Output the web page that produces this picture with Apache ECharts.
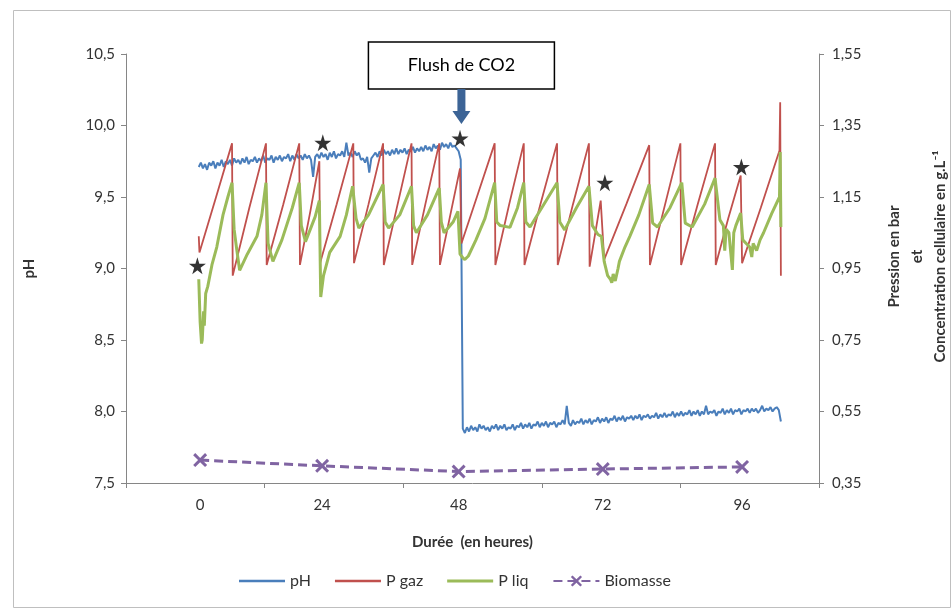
<!DOCTYPE html>
<html>
<head>
<meta charset="utf-8">
<script src="https://cdn.jsdelivr.net/npm/echarts@6/dist/echarts.min.js"></script>
<style>
html,body{margin:0;padding:0;background:#fff;}
#c{width:952px;height:610px;}
</style>
</head>
<body>
<div id="c"></div>
<script>
// ---- Data (x = position along the measurement axis, 0..1000) ----
const hourLabels = ['0', '24', '48', '72', '96'];
const hourPositions = [107, 283, 480, 688, 889];
const xTickValues = [0, 200, 400, 600, 800, 1000];
const rightTickValues = [0.35, 0.55, 0.75, 0.95, 1.15, 1.35, 1.55];
const flushPosition = 484;

const biomasseValues = [0.414, 0.398, 0.382, 0.389, 0.395];

const stars = [[103, 9.02], [284, 9.88], [482, 9.91], [691, 9.60], [888, 9.71]];

// pH samples, regularly spaced: first sample at phStart, one every phStep
const phStart = 105, phStep = 3;
const phValues = [
 9.71,9.74,9.70,9.73,9.69,9.74,9.72,9.75,9.70,9.74,
 9.72,9.76,9.71,9.75,9.73,9.76,9.72,9.77,9.74,9.76,
 9.73,9.77,9.74,9.78,9.73,9.76,9.75,9.78,9.74,9.77,
 9.75,9.79,9.74,9.77,9.76,9.79,9.74,9.78,9.76,9.79,
 9.75,9.78,9.77,9.80,9.75,9.79,9.76,9.80,9.77,9.79,
 9.76,9.80,9.77,9.79,9.76,9.64,9.78,9.80,9.77,9.81,
 9.78,9.80,9.76,9.81,9.78,9.82,9.77,9.80,9.79,9.82,
 9.78,9.88,9.79,9.81,9.78,9.82,9.79,9.81,9.76,9.77,
 9.74,9.78,9.67,9.77,9.79,9.81,9.78,9.82,9.79,9.83,
 9.80,9.82,9.79,9.83,9.80,9.84,9.80,9.83,9.81,9.84,
 9.80,9.83,9.82,9.85,9.81,9.84,9.82,9.85,9.82,9.86,
 9.83,9.85,9.82,9.87,9.84,9.86,9.83,9.88,9.85,9.87,
 9.84,9.88,9.85,9.86,9.84,9.82,9.76,
 7.88,7.85,7.89,7.86,7.90,7.87,7.89,7.86,7.91,7.88,
 7.90,7.87,7.89,7.86,7.90,7.88,7.91,7.87,7.90,7.88,
 7.91,7.87,7.89,7.88,7.91,7.87,7.90,7.89,7.92,7.88,
 7.91,7.89,7.92,7.88,7.91,7.90,7.93,7.89,7.92,7.90,
 7.93,7.89,7.92,7.91,7.93,7.89,7.92,7.91,7.94,7.91,
 8.04,7.92,7.90,7.94,7.91,7.93,7.92,7.95,7.91,7.94,
 7.92,7.95,7.91,7.94,7.93,7.96,7.92,7.95,7.93,7.96,
 7.92,7.95,7.94,7.97,7.93,7.96,7.94,7.97,7.93,7.96,
 7.95,7.97,7.94,7.97,7.95,7.98,7.94,7.97,7.96,7.98,
 7.95,7.97,7.96,7.99,7.95,7.98,7.96,7.99,7.96,7.98,
 7.97,8.00,7.96,7.99,7.97,8.00,7.97,7.99,7.98,8.01,
 7.97,8.00,7.98,8.01,7.97,8.00,7.98,8.04,7.98,8.00,
 7.99,8.01,7.97,8.00,7.99,8.02,7.98,8.01,7.99,8.02,
 7.98,8.01,8.00,8.02,7.98,8.01,8.00,8.02,7.99,8.02,
 8.00,8.02,7.99,8.01,8.04,8.00,8.02,8.01,8.03,8.00,
 8.02,8.03,8.01,7.93
];

const pGazData = [
 [105,1.04],[106,0.995],[130,1.15],[153,1.30],[154,0.93],[178,1.12],[202,1.30],[203,0.96],[227,1.13],[250,1.30],
 [251,0.96],[266,1.11],[279,1.25],[280,0.965],[304,1.13],[328,1.30],[329,0.965],[350,1.13],[371,1.30],[372,0.96],
 [392,1.13],[412,1.30],[413,0.96],[432,1.13],[452,1.30],[453,0.96],[468,1.10],[482,1.23],[484,1.02],[508,1.16],
 [532,1.30],[533,0.96],[553,1.13],[574,1.30],[575,0.96],[598,1.13],[622,1.30],[623,0.96],[645,1.13],[668,1.30],
 [669,0.955],[685,1.14],[690,0.975],[722,1.13],[755,1.295],[756,0.96],[778,1.13],[800,1.30],[801,0.96],[825,1.13],
 [850,1.30],[851,0.96],[869,1.09],[887,1.21],[889,0.965],[916,1.12],[943,1.28],[944,1.415],[945,0.93]
];

const pLiqData = [
 [105,0.92],[107,0.80],[109,0.74],[110,0.75],[112,0.83],[113,0.79],[115,0.88],[118,0.90],[124,0.96],[131,1.01],
 [140,1.10],[147,1.15],[153,1.19],[156,1.06],[160,1.00],[164,0.945],[175,0.99],[189,1.04],[196,1.10],[202,1.19],
 [205,1.02],[212,0.97],[225,1.03],[240,1.12],[250,1.19],[253,1.07],[259,1.025],[268,1.07],[273,1.095],[279,1.14],
 [281,0.87],[285,0.93],[294,0.995],[309,1.04],[318,1.10],[327,1.18],[332,1.09],[336,1.063],[350,1.10],[371,1.185],
 [374,1.08],[379,1.063],[395,1.10],[412,1.18],[415,1.07],[419,1.05],[435,1.10],[452,1.175],[455,1.08],[459,1.05],
 [472,1.08],[479,1.11],[482,0.99],[486,0.98],[489,0.975],[494,0.985],[505,1.03],[518,1.09],[532,1.19],[535,1.08],
 [540,1.07],[554,1.065],[565,1.12],[574,1.19],[577,1.08],[583,1.066],[600,1.12],[622,1.19],[626,1.08],[633,1.058],
 [650,1.12],[668,1.18],[673,1.07],[681,1.045],[686,1.04],[690,0.97],[695,0.93],[699,0.92],[701,0.91],[703,0.935],
 [706,0.915],[710,0.95],[712,0.97],[720,1.01],[727,1.04],[740,1.10],[755,1.185],[760,1.077],[767,1.066],[785,1.12],
 [802,1.19],[807,1.077],[817,1.066],[835,1.13],[850,1.203],[857,1.086],[862,1.07],[864,1.00],[866,1.06],[870,1.05],
 [875,0.946],[877,1.05],[880,1.07],[887,1.105],[890,1.03],[895,1.02],[900,1.01],[903,0.982],[905,1.02],[910,1.00],
 [915,1.03],[920,1.05],[932,1.105],[943,1.15],[944,1.276],[945,1.066]
];

// ---- Chart ----
const chart = echarts.init(document.getElementById('c'), null, {renderer: 'canvas'});
const axisGray = '#868686';
const textCol = '#333333';
const font = 'Lato, "Open Sans", sans-serif';
const starPath = 'path://M50,0 L61,35 L98,35 L68,57 L79,91 L50,70 L21,91 L32,57 L2,35 L39,35 Z';
const crossPath = 'path://M0,1.5 L1.5,0 L5,3.5 L8.5,0 L10,1.5 L6.5,5 L10,8.5 L8.5,10 L5,6.5 L1.5,10 L0,8.5 L3.5,5 Z';
const thinBar = 'path://M0,0 L100,0 L100,5 L0,5 Z';
const thickBar = 'path://M0,0 L100,0 L100,7 L0,7 Z';

const phData = phValues.map((v, i) => [phStart + phStep * i, v]);

const option = {
  animation: false,
  textStyle: {fontFamily: font, color: textCol},
  grid: {left: 126, right: 133, top: 54, bottom: 127, containLabel: false, outerBoundsMode: 'none'},
  legend: {
    data: [
      {name: 'pH', icon: thinBar},
      {name: 'P gaz', icon: thinBar},
      {name: 'P liq', icon: thickBar},
      {name: 'Biomasse'}
    ],
    left: 234, top: 568,
    itemWidth: 46, itemHeight: 14, itemGap: 24,
    textStyle: {fontSize: 16, color: textCol, fontFamily: font}
  },
  xAxis: {
    type: 'value', min: 0, max: 1000,
    name: 'Durée  (en heures)', nameLocation: 'middle', nameGap: 52,
    nameTextStyle: {fontSize: 15, fontWeight: 'bold', color: textCol},
    axisLine: {show: true, lineStyle: {color: axisGray}},
    axisTick: {show: true, length: 5, customValues: xTickValues, lineStyle: {color: axisGray}},
    axisLabel: {
      customValues: hourPositions, margin: 15, fontSize: 15, color: textCol,
      formatter: v => hourLabels[hourPositions.indexOf(v)]
    },
    splitLine: {show: false}
  },
  yAxis: [
    {
      type: 'value', min: 7.5, max: 10.5, interval: 0.5, position: 'left',
      name: 'pH', nameLocation: 'middle', nameGap: 89, nameRotate: 90,
      nameTextStyle: {fontSize: 15, fontWeight: 'bold', color: textCol},
      axisLine: {show: true, lineStyle: {color: axisGray}},
      axisTick: {show: true, length: 5, lineStyle: {color: axisGray}},
      axisLabel: {fontSize: 15, margin: 11, color: textCol, formatter: v => v.toFixed(1).replace('.', ',')},
      splitLine: {show: false}
    },
    {
      type: 'value', min: 0.35, max: 1.55, position: 'right',
      name: 'Pression en bar\net\nConcentration cellulaire en g.L⁻¹',
      nameLocation: 'middle', nameGap: 64, nameRotate: 90,
      nameTextStyle: {fontSize: 15, fontWeight: 'bold', color: textCol, lineHeight: 23, align: 'center',
        padding: [0, 0, 0, 24]},
      axisLine: {show: true, lineStyle: {color: axisGray}},
      axisTick: {show: true, length: 5, customValues: rightTickValues, lineStyle: {color: axisGray}},
      axisLabel: {customValues: rightTickValues, fontSize: 15, margin: 13, color: textCol,
        formatter: v => v.toFixed(2).replace('.', ',')},
      splitLine: {show: false}
    }
  ],
  series: [
    {name: 'pH', type: 'line', yAxisIndex: 0, data: phData, symbol: 'none',
     lineStyle: {color: '#4A7EBB', width: 2}, itemStyle: {color: '#4A7EBB'}},
    {name: 'P gaz', type: 'line', yAxisIndex: 1, data: pGazData, symbol: 'none',
     lineStyle: {color: '#C0504D', width: 1.8}, itemStyle: {color: '#C0504D'}},
    {name: 'P liq', type: 'line', yAxisIndex: 1, data: pLiqData, symbol: 'none',
     lineStyle: {color: '#9BBB59', width: 3}, itemStyle: {color: '#9BBB59'}},
    {name: 'Biomasse', type: 'line', yAxisIndex: 1,
     data: hourPositions.map((p, i) => [p, biomasseValues[i]]),
     symbol: crossPath, symbolSize: 14, showSymbol: true,
     lineStyle: {color: '#8064A2', width: 3, type: [9, 5]},
     itemStyle: {color: '#8064A2', borderWidth: 0}},
    {name: 'stars', type: 'scatter', yAxisIndex: 0, data: stars, symbol: starPath, symbolSize: 17,
     itemStyle: {color: '#000'}, z: 5}
  ]
};
chart.setOption(option);

const fx = chart.convertToPixel({xAxisIndex: 0}, flushPosition);
chart.setOption({
  graphic: [
    {type: 'rect', shape: {x: 13.5, y: 10.5, width: 937, height: 597},
     style: {fill: 'none', stroke: '#bfbfbf', lineWidth: 1}, silent: true},
    {type: 'rect', shape: {x: fx - 93, y: 42, width: 186, height: 47},
     style: {fill: '#fff', stroke: '#000', lineWidth: 1.5}},
    {type: 'text', x: fx, y: 65,
     style: {text: 'Flush de CO2', fontSize: 18, fontFamily: font, fill: '#000', align: 'center', verticalAlign: 'middle'}},
    {type: 'polygon', shape: {points: [[fx-4, 89], [fx+4, 89], [fx+4, 111], [fx+9, 111], [fx, 124], [fx-9, 111], [fx-4, 111]]},
     style: {fill: '#3C6496'}}
  ]
});
</script>
</body>
</html>
